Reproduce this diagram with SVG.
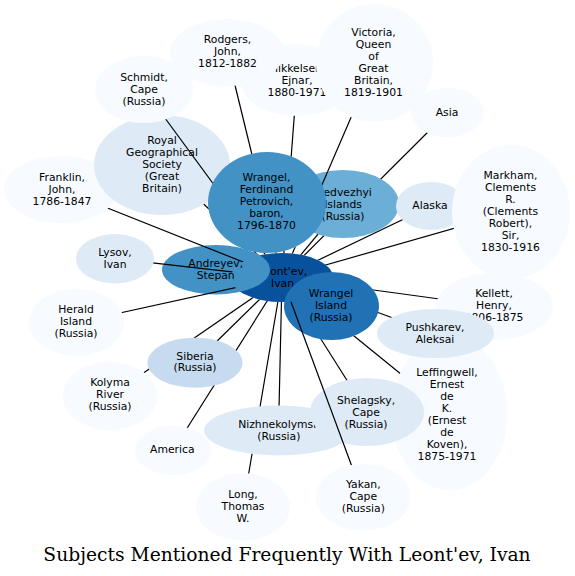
<svg xmlns="http://www.w3.org/2000/svg" width="575" height="576" viewBox="0 0 575 576">
<style>
text{font-family:"DejaVu Sans","Liberation Sans",sans-serif;font-size:10.8px;fill:#000;text-anchor:middle}
.c0{fill:#f7fbff}.c1{fill:#deebf7}.c2{fill:#c6dbef}.c4{fill:#6baed6}.c5{fill:#4292c6}.c6{fill:#2171b5}.c7{fill:#08519c}
#connectors path{stroke:#000;stroke-width:1.2;fill:none}
text.title{font-family:"DejaVu Serif","Liberation Serif",serif;font-size:18.7px}
</style>
<defs>
<ellipse id="s-franklin" cx="61" cy="189.5" rx="57" ry="33.5"/>
<ellipse id="s-rgs" cx="162" cy="165" rx="68" ry="50"/>
<ellipse id="s-schmidt" cx="144" cy="89.5" rx="49" ry="33.5"/>
<ellipse id="s-rodgers" cx="227" cy="52.5" rx="57" ry="33.5"/>
<ellipse id="s-mikkelsen" cx="297" cy="80" rx="57" ry="36"/>
<ellipse id="s-victoria" cx="374.5" cy="63" rx="58.5" ry="59"/>
<ellipse id="s-asia" cx="447.5" cy="112.5" rx="36.5" ry="24.5"/>
<ellipse id="s-medv" cx="343" cy="204" rx="56" ry="34"/>
<ellipse id="s-leontev" cx="282" cy="277.5" rx="51" ry="24.5"/>
<ellipse id="s-wrangelf" cx="267" cy="202.5" rx="59" ry="50.5"/>
<ellipse id="s-alaska" cx="431" cy="206" rx="35" ry="24"/>
<ellipse id="s-markham" cx="511" cy="212" rx="59" ry="67"/>
<ellipse id="s-kellett" cx="494.5" cy="306.5" rx="58.5" ry="33.5"/>
<ellipse id="s-leffingwell" cx="449.5" cy="413.5" rx="58" ry="77"/>
<ellipse id="s-pushkarev" cx="435.5" cy="333.5" rx="58.5" ry="24.5"/>
<ellipse id="s-wrangeli" cx="331.5" cy="306" rx="47.5" ry="34"/>
<ellipse id="s-andreyev" cx="216" cy="269.7" rx="54" ry="24.7"/>
<ellipse id="s-lysov" cx="115" cy="258.7" rx="39" ry="24.7"/>
<ellipse id="s-herald" cx="76.5" cy="322.5" rx="47.5" ry="33.5"/>
<ellipse id="s-kolyma" cx="110" cy="396" rx="47.3" ry="34"/>
<ellipse id="s-america" cx="173" cy="450.5" rx="38" ry="24.5"/>
<ellipse id="s-siberia" cx="195" cy="362.7" rx="47.5" ry="25"/>
<ellipse id="s-nizh" cx="278.5" cy="430.5" rx="74.5" ry="25"/>
<ellipse id="s-long" cx="243" cy="507" rx="47" ry="33.7"/>
<ellipse id="s-shelagsky" cx="367" cy="412" rx="57" ry="34"/>
<ellipse id="s-yakan" cx="363.3" cy="497.3" rx="47.3" ry="33.3"/>
<g id="allS">
<use href="#s-franklin"/><use href="#s-rgs"/><use href="#s-schmidt"/><use href="#s-rodgers"/><use href="#s-mikkelsen"/><use href="#s-victoria"/><use href="#s-asia"/><use href="#s-medv"/><use href="#s-leontev"/><use href="#s-wrangelf"/><use href="#s-alaska"/><use href="#s-markham"/><use href="#s-kellett"/><use href="#s-leffingwell"/><use href="#s-pushkarev"/><use href="#s-wrangeli"/><use href="#s-andreyev"/><use href="#s-lysov"/><use href="#s-herald"/><use href="#s-kolyma"/><use href="#s-america"/><use href="#s-siberia"/><use href="#s-nizh"/><use href="#s-long"/><use href="#s-shelagsky"/><use href="#s-yakan"/>
</g>
<mask id="mDef" maskUnits="userSpaceOnUse" x="0" y="0" width="575" height="576">
<rect width="575" height="576" fill="#fff"/><use href="#allS" fill="#000"/>
</mask>
<mask id="mSchmidt" maskUnits="userSpaceOnUse" x="0" y="0" width="575" height="576">
<rect width="575" height="576" fill="#fff"/><use href="#allS" fill="#000"/><use href="#s-rgs" fill="#fff"/><use href="#s-schmidt" fill="#000"/><use href="#s-wrangelf" fill="#000"/>
</mask>
<mask id="mVictoria" maskUnits="userSpaceOnUse" x="0" y="0" width="575" height="576">
<rect width="575" height="576" fill="#fff"/><use href="#allS" fill="#000"/><use href="#s-medv" fill="#fff"/><use href="#s-wrangelf" fill="#000"/><use href="#s-victoria" fill="#000"/>
</mask>
<mask id="mAndreyev" maskUnits="userSpaceOnUse" x="0" y="0" width="575" height="576">
<rect width="575" height="576" fill="#fff"/><use href="#allS" fill="#000"/><use href="#s-andreyev" fill="#fff"/><use href="#s-leontev" fill="#000"/>
</mask>
<mask id="mYakan" maskUnits="userSpaceOnUse" x="0" y="0" width="575" height="576">
<rect width="575" height="576" fill="#fff"/><use href="#allS" fill="#000"/><use href="#s-wrangeli" fill="#fff"/><use href="#s-nizh" fill="#fff"/><use href="#s-shelagsky" fill="#fff"/><use href="#s-leontev" fill="#000"/><use href="#s-yakan" fill="#000"/>
</mask>
</defs>
<rect width="575" height="576" fill="#fff"/>
<g id="nodes">
<g id="n-franklin"><use href="#s-franklin" class="c0"/><text x="62" y="180.5">Franklin,</text><text x="62" y="192.5">John,</text><text x="62" y="204.5">1786-1847</text></g>
<g id="n-rgs"><use href="#s-rgs" class="c1"/><text x="162" y="144">Royal</text><text x="162" y="156">Geographical</text><text x="162" y="168">Society</text><text x="162" y="180">(Great</text><text x="162" y="192">Britain)</text></g>
<g id="n-schmidt"><use href="#s-schmidt" class="c0"/><text x="144" y="80.5">Schmidt,</text><text x="144" y="92.5">Cape</text><text x="144" y="104.5">(Russia)</text></g>
<g id="n-mikkelsen"><use href="#s-mikkelsen" class="c0"/><text x="297" y="72">Mikkelsen,</text><text x="297" y="84">Ejnar,</text><text x="297" y="96">1880-1971</text></g>
<g id="n-rodgers"><use href="#s-rodgers" class="c0"/><text x="227.5" y="43">Rodgers,</text><text x="227.5" y="55">John,</text><text x="227.5" y="67">1812-1882</text></g>
<g id="n-victoria"><use href="#s-victoria" class="c0"/><text x="373.5" y="36">Victoria,</text><text x="373.5" y="48">Queen</text><text x="373.5" y="60">of</text><text x="373.5" y="72">Great</text><text x="373.5" y="84">Britain,</text><text x="373.5" y="96">1819-1901</text></g>
<g id="n-asia"><use href="#s-asia" class="c0"/><text x="447" y="116">Asia</text></g>
<g id="n-medvezhyi"><use href="#s-medv" class="c4"/><text x="343" y="196">Medvezhyi</text><text x="343" y="208">Islands</text><text x="343" y="220">(Russia)</text></g>
<g id="n-leontev"><use href="#s-leontev" class="c7"/><text x="282.5" y="274.7">Leont'ev,</text><text x="282.5" y="286.7">Ivan</text></g>
<g id="n-wrangelf"><use href="#s-wrangelf" class="c5"/><text x="266.5" y="181">Wrangel,</text><text x="266.5" y="193">Ferdinand</text><text x="266.5" y="205">Petrovich,</text><text x="266.5" y="217">baron,</text><text x="266.5" y="229">1796-1870</text></g>
<g id="n-alaska"><use href="#s-alaska" class="c1"/><text x="430" y="209">Alaska</text></g>
<g id="n-markham"><use href="#s-markham" class="c0"/><text x="510.5" y="179">Markham,</text><text x="510.5" y="191">Clements</text><text x="510.5" y="203">R.</text><text x="510.5" y="215">(Clements</text><text x="510.5" y="227">Robert),</text><text x="510.5" y="239">Sir,</text><text x="510.5" y="251">1830-1916</text></g>
<g id="n-kellett"><use href="#s-kellett" class="c0"/><text x="494" y="297">Kellett,</text><text x="494" y="309">Henry,</text><text x="494" y="321">1806-1875</text></g>
<g id="n-leffingwell"><use href="#s-leffingwell" class="c0"/><text x="447" y="375.5">Leffingwell,</text><text x="447" y="387.5">Ernest</text><text x="447" y="399.5">de</text><text x="447" y="411.5">K.</text><text x="447" y="423.5">(Ernest</text><text x="447" y="435.5">de</text><text x="447" y="447.5">Koven),</text><text x="447" y="459.5">1875-1971</text></g>
<g id="n-pushkarev"><use href="#s-pushkarev" class="c1"/><text x="435" y="330.5">Pushkarev,</text><text x="435" y="342.5">Aleksai</text></g>
<g id="n-wrangeli"><use href="#s-wrangeli" class="c6"/><text x="331" y="297">Wrangel</text><text x="331" y="309">Island</text><text x="331" y="321">(Russia)</text></g>
<g id="n-andreyev"><use href="#s-andreyev" class="c5"/><text x="215.7" y="266.5">Andreyev,</text><text x="215.7" y="278.5">Stepan</text></g>
<g id="n-lysov"><use href="#s-lysov" class="c1"/><text x="115" y="256">Lysov,</text><text x="115" y="268">Ivan</text></g>
<g id="n-herald"><use href="#s-herald" class="c0"/><text x="76" y="312.8">Herald</text><text x="76" y="324.8">Island</text><text x="76" y="336.8">(Russia)</text></g>
<g id="n-kolyma"><use href="#s-kolyma" class="c0"/><text x="110" y="386.3">Kolyma</text><text x="110" y="398.3">River</text><text x="110" y="410.3">(Russia)</text></g>
<g id="n-america"><use href="#s-america" class="c0"/><text x="172.3" y="453">America</text></g>
<g id="n-siberia"><use href="#s-siberia" class="c2"/><text x="195" y="359.5">Siberia</text><text x="195" y="371.3">(Russia)</text></g>
<g id="n-nizhnekolymsk"><use href="#s-nizh" class="c1"/><text x="278.8" y="428">Nizhnekolymsk</text><text x="278.8" y="440">(Russia)</text></g>
<g id="n-long"><use href="#s-long" class="c0"/><text x="243" y="498">Long,</text><text x="243" y="510">Thomas</text><text x="243" y="522">W.</text></g>
<g id="n-shelagsky"><use href="#s-shelagsky" class="c1"/><text x="366" y="403.8">Shelagsky,</text><text x="366" y="415.8">Cape</text><text x="366" y="427.8">(Russia)</text></g>
<g id="n-yakan"><use href="#s-yakan" class="c0"/><text x="363.3" y="488">Yakan,</text><text x="363.3" y="500">Cape</text><text x="363.3" y="512">(Russia)</text></g>
</g>
<g id="connectors">
<path mask="url(#mSchmidt)" d="M144,89.5L282,277.5"/>
<path mask="url(#mDef)" d="M162,165L282,277.5"/>
<path mask="url(#mDef)" d="M227,52.5L282,277.5"/>
<path mask="url(#mDef)" d="M297,80L282,277.5"/>
<path mask="url(#mVictoria)" d="M374.5,63L282,277.5"/>
<path mask="url(#mDef)" d="M447.5,112.5L282,277.5"/>
<path mask="url(#mDef)" d="M343,204L282,277.5"/>
<path mask="url(#mDef)" d="M431,206L282,277.5"/>
<path mask="url(#mDef)" d="M511,212L282,277.5"/>
<path mask="url(#mDef)" d="M494.5,306.5L282,277.5"/>
<path mask="url(#mDef)" d="M435.5,333.5L282,277.5"/>
<path mask="url(#mDef)" d="M449.5,413.5L282,277.5"/>
<path mask="url(#mDef)" d="M367,412L282,277.5"/>
<path mask="url(#mYakan)" d="M363.3,497.3L282,277.5"/>
<path mask="url(#mDef)" d="M278.5,430.5L282,277.5"/>
<path mask="url(#mDef)" d="M243,507L282,277.5"/>
<path mask="url(#mDef)" d="M173,450.5L282,277.5"/>
<path mask="url(#mDef)" d="M195,362.7L282,277.5"/>
<path mask="url(#mDef)" d="M110,396L282,277.5"/>
<path mask="url(#mAndreyev)" d="M76.5,322.5L282,277.5"/>
<path mask="url(#mAndreyev)" d="M115,258.7L282,277.5"/>
<path mask="url(#mAndreyev)" d="M61,189.5L282,277.5"/>
</g>
<text class="title" x="287" y="560.5">Subjects Mentioned Frequently With Leont'ev, Ivan</text>
</svg>
